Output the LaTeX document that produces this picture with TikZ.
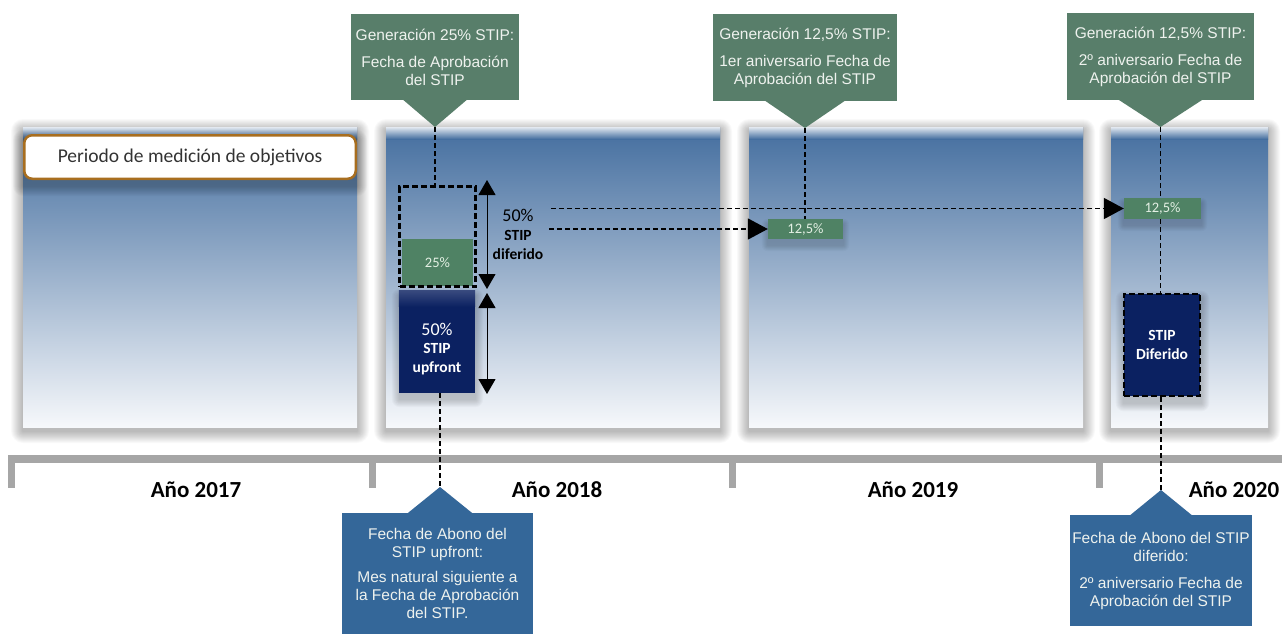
\documentclass[tikz,border=0pt]{standalone}
\usepackage{fontspec}
\setmainfont{Carlito}
\newfontfamily\calloutfont{Liberation Sans}
\usetikzlibrary{arrows.meta,calc}

\definecolor{panelTop}{HTML}{446E9F}
\definecolor{panelBot}{HTML}{F6F8FB}
\definecolor{callGreen}{HTML}{587E6A}
\definecolor{callBlue}{HTML}{346799}
\definecolor{callText}{HTML}{EEF2EE}
\definecolor{pctGreen}{HTML}{4F8264}
\definecolor{pctText}{HTML}{E4F0E4}
\definecolor{navy}{HTML}{0B2161}
\definecolor{axisGray}{HTML}{A6A6A6}
\definecolor{frameBrown}{HTML}{A86E1F}
\definecolor{textGray}{HTML}{333333}

\pgfdeclarelayer{panelshadow}
\pgfdeclarelayer{panels}
\pgfdeclarelayer{boxshadow}
\pgfsetlayers{panelshadow,panels,boxshadow,main}

% soft halo: #1 = steps, #2 = top-left corner, #3 = bottom-right corner, #4 = downward offset
\newcommand\softhalo[4]{%
  \foreach \i in {1,...,#1}{%
    \fill[black, opacity=0.022, rounded corners=\i pt]
      ($(#2)+(-\i,{-\i+#4})$) rectangle ($(#3)+(\i,{\i+#4})$);}}

\begin{document}
\begin{tikzpicture}[x=1pt,y=-1pt,
  panel/.style={top color=panelTop, bottom color=panelBot},
  gcall/.style={fill=callGreen, text=callText, align=center, inner sep=0pt,
    font=\calloutfont\fontsize{15.5}{18}\selectfont},
  bcall/.style={gcall, fill=callBlue},
  conn/.style={draw=black, line width=1.8pt, dash pattern=on 5pt off 3pt},
  pctbox/.style={fill=pctGreen, text=pctText, inner sep=0pt,
    font=\fontsize{14.5}{16}\selectfont},
  navybox/.style={fill=navy, inner sep=0pt},
  dashframe/.style={draw=black, line width=2.6pt, dash pattern=on 6pt off 3pt},
  navytext/.style={text=white, align=center, inner sep=0pt,
    font=\bfseries\fontsize{15.5}{18.5}\selectfont},
  yearlbl/.style={text=black, font=\bfseries\fontsize{23}{26}\selectfont},
  bigtip/.style={-{Triangle[length=20pt,width=21pt]}},
  dbl/.style={{Triangle[length=15pt,width=17pt]}-{Triangle[length=15pt,width=17pt]}, line width=1pt}
]
\useasboundingbox (0,0) rectangle (1282,634);

% yearly panels with soft shadows
\begin{pgfonlayer}{panelshadow}
  \fill[white] (0,0) rectangle (1282,634);
  \foreach \a/\b in {23/357,386/720,749/1083,1111/1268}
    \softhalo{12}{\a,127}{\b,427}{4};
\end{pgfonlayer}
\begin{pgfonlayer}{panels}
  \foreach \a/\b in {23/357,386/720,749/1083,1111/1268}{
    \path[panel] (\a,127) rectangle (\b,427);
    \shade[top color=panelTop!15!white, bottom color=panelTop] (\a,127) rectangle (\b,139);}
\end{pgfonlayer}

% time axis
\fill[axisGray] (8,455) rectangle (1282,463);
\foreach \t in {8,369,729,1096}
  \fill[axisGray] (\t,455) rectangle ({\t+7},488);

\node[yearlbl] (y2017) at (196,490) {Año 2017};
\node[yearlbl] (y2018) at (557,490) {Año 2018};
\node[yearlbl] (y2019) at (913,490) {Año 2019};
\node[yearlbl] (y2020) at (1234,490) {Año 2020};

% measurement period label
\node[draw=frameBrown, line width=2.5pt, rounded corners=8pt, fill=white,
  minimum width=331.5pt, minimum height=43.5pt, inner sep=0pt, text=textGray,
  font=\fontsize{19.5}{22}\selectfont]
  (periodo) at (190,157) {Periodo de medición de objetivos};
\begin{pgfonlayer}{boxshadow}
  \softhalo{10}{periodo.north west}{periodo.south east}{6}
\end{pgfonlayer}

% top callouts
\node[gcall, minimum width=168pt, minimum height=86pt] (g1) at (435,57)
  {Generación 25\% STIP:\\[9pt]Fecha de Aprobación\\del STIP};
\coordinate (g1tip) at (435,127);
\fill[callGreen] ([xshift=-32pt,yshift=0.5pt]g1.south) -- (g1tip) -- ([xshift=32pt,yshift=0.5pt]g1.south) -- cycle;

\node[gcall, minimum width=184pt, minimum height=87pt] (g2) at (805,57.5)
  {Generación 12,5\% STIP:\\[9pt]1er aniversario Fecha de\\Aprobación del STIP};
\coordinate (g2tip) at (805,128);
\fill[callGreen] ([xshift=-40pt,yshift=0.5pt]g2.south) -- (g2tip) -- ([xshift=40pt,yshift=0.5pt]g2.south) -- cycle;

\node[gcall, minimum width=187pt, minimum height=87pt] (g3) at (1160.5,56.5)
  {Generación 12,5\% STIP:\\[9pt]2º aniversario Fecha de\\Aprobación del STIP};
\coordinate (g3tip) at (1160.5,127);
\fill[callGreen] ([xshift=-42pt,yshift=0.5pt]g3.south) -- (g3tip) -- ([xshift=42pt,yshift=0.5pt]g3.south) -- cycle;

% bottom callouts
\node[bcall, minimum width=191pt, minimum height=121pt] (b1) at (437.5,573.5)
  {Fecha de Abono del\\STIP upfront:\\[7pt]Mes natural siguiente a\\la Fecha de Aprobación\\del STIP.};
\coordinate (b1tip) at (440,487);
\fill[callBlue] ([xshift=-30pt,yshift=-0.5pt]b1.north) -- (b1tip) -- ([xshift=35pt,yshift=-0.5pt]b1.north) -- cycle;

\node[bcall, minimum width=182pt, minimum height=111pt] (b2) at (1161,570.5)
  {Fecha de Abono del STIP\\diferido:\\[9pt]2º aniversario Fecha de\\Aprobación del STIP};
\coordinate (b2tip) at (1161,490);
\fill[callBlue] ([xshift=-31pt,yshift=-0.5pt]b2.north) -- (b2tip) -- ([xshift=31pt,yshift=-0.5pt]b2.north) -- cycle;

% 2018 block: deferred part (dashed) and upfront part
\node[pctbox, minimum width=71pt, minimum height=47pt] (pct25) at (437.5,262.5) {25\%};
\node[dashframe, minimum width=76pt, minimum height=100pt, inner sep=0pt] (dbox) at (437.5,236.5) {};
\node[navybox, minimum width=76pt, minimum height=102pt] (upfront) at (437,342) {};
\shade[top color=navy!82!white, bottom color=navy] (upfront.north west) rectangle ([yshift=-16pt]upfront.north east);
\node[navytext] (upfrontTxt) at (437,349)
  {{\mdseries\fontsize{18}{18.5}\selectfont 50\%}\\STIP\\upfront};

% later tranches
\node[pctbox, minimum width=75pt, minimum height=20pt] (pctA) at (805.5,229) {12,5\%};
\node[pctbox, minimum width=77pt, minimum height=21pt] (pctB) at (1162.5,208.5) {12,5\%};
\node[navybox, dashframe, minimum width=76pt, minimum height=102pt, navytext] (dif) at (1162,345) {STIP\\Diferido};

\begin{pgfonlayer}{boxshadow}
  \softhalo{8}{[xshift=1pt]upfront.north west}{upfront.south east}{6}
  \softhalo{8}{[xshift=1pt]dif.north west}{dif.south east}{6}
  \softhalo{6}{pctA.north west}{pctA.south east}{6}
  \softhalo{6}{pctB.north west}{pctB.south east}{6}
\end{pgfonlayer}

% deferred / upfront spans
\node[text=black, align=center, inner sep=0pt, font=\bfseries\fontsize{15.5}{19}\selectfont]
  (difLabel) at (518,234) {{\mdseries\fontsize{18}{19}\selectfont 50\%}\\STIP\\diferido};
\coordinate (dA1) at (487,180);
\coordinate (dA2) at (487,289);
\coordinate (dB1) at (487,293);
\coordinate (dB2) at (487,394);
\draw[dbl] (dA1) -- (dA2);
\draw[dbl] (dB1) -- (dB2);

% vertical date connectors
\draw[conn] (g1tip) -- (g1tip |- dbox.north);
\draw[conn] (b1tip |- upfront.south) -- (b1tip);
\draw[conn] (g2tip) -- (g2tip |- pctA.north);
\draw[conn] (g3tip) -- (g3tip |- pctB.north);
\draw[conn] (g3tip |- pctB.south) -- (g3tip |- dif.north);
\draw[conn] (b2tip |- dif.south) -- (b2tip);

% deferred tranches carried forward
\coordinate (hA) at (551,208.5);
\coordinate (hB) at (549,229);
\draw[conn, bigtip] (hA) -- (pctB.west);
\draw[conn, bigtip] (hB) -- (pctA.west);
\end{tikzpicture}
\end{document}
